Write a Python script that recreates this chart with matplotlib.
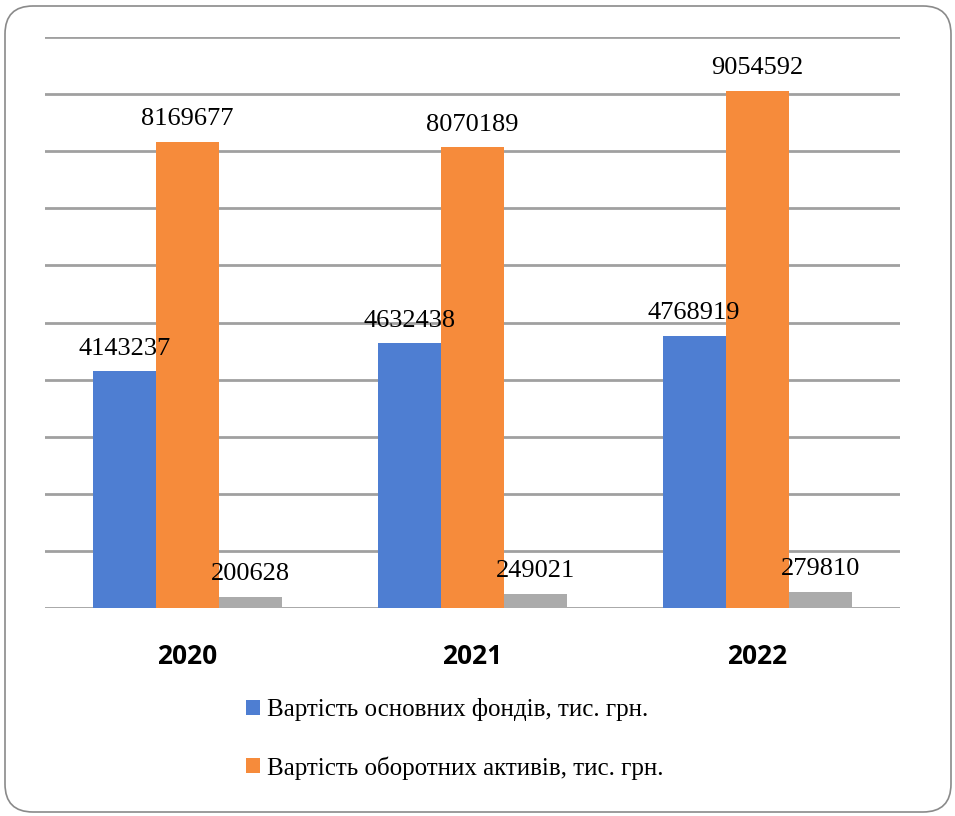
import matplotlib.pyplot as plt
import numpy as np
from matplotlib.patches import FancyBboxPatch

years = ["2020", "2021", "2022"]
fixed_assets = [4143237, 4632438, 4768919]
current_assets = [8169677, 8070189, 9054592]
third_series = [200628, 249021, 279810]
legend_labels = ["Вартість основних фондів, тис. грн.",
                 "Вартість оборотних активів, тис. грн."]

colors = ["#4E7ED2", "#F68B3B", "#ABABAB"]

fig = plt.figure(figsize=(9.55, 8.16), dpi=100)
ax = fig.add_axes([45 / 955, 1 - 608 / 816, 855 / 955, 571 / 816])

x = np.arange(len(years))
w = 0.222
series = [fixed_assets, current_assets, third_series]
bars = []
for i, vals in enumerate(series):
    b = ax.bar(x + (i - 1) * w, vals, w, color=colors[i], zorder=3)
    bars.append(b)
    for xi, v in zip(x + (i - 1) * w, vals):
        ax.annotate(str(v), (xi, v), xytext=(0, 12), textcoords="offset points",
                    ha="center", va="baseline", fontsize=19,
                    family="Liberation Serif", zorder=4)

ax.set_xlim(-0.5, 2.5)
ax.set_ylim(0, 10000000)
ax.set_yticks(np.arange(0, 10000001, 1000000))
ax.yaxis.grid(True, color="#A0A0A0", linewidth=2, zorder=0)
ax.set_yticklabels([])
ax.tick_params(axis="y", length=0)
ax.tick_params(axis="x", length=0, pad=25)
ax.set_xticks(x)
ax.set_xticklabels(years)
for lbl in ax.get_xticklabels():
    lbl.set_fontfamily("Open Sans")
    lbl.set_fontweight("bold")
    lbl.set_fontsize(19)
for s in ax.spines.values():
    s.set_visible(False)

fig.legend(bars[:2], legend_labels, loc="upper left",
           bbox_to_anchor=(246 / 955, 1 - 698 / 816), frameon=False,
           prop={"family": "Liberation Serif", "size": 18},
           handlelength=0.55, handleheight=0.55, handletextpad=0.3,
           labelspacing=1.4, borderaxespad=0, borderpad=0)

frame = FancyBboxPatch((5, 4), 946, 806, boxstyle="round,pad=0,rounding_size=28",
                       transform=None, facecolor="none", edgecolor="#8A8A8A",
                       linewidth=1.2)
fig.patches.append(frame)

fig.savefig("out.png", dpi=100)
